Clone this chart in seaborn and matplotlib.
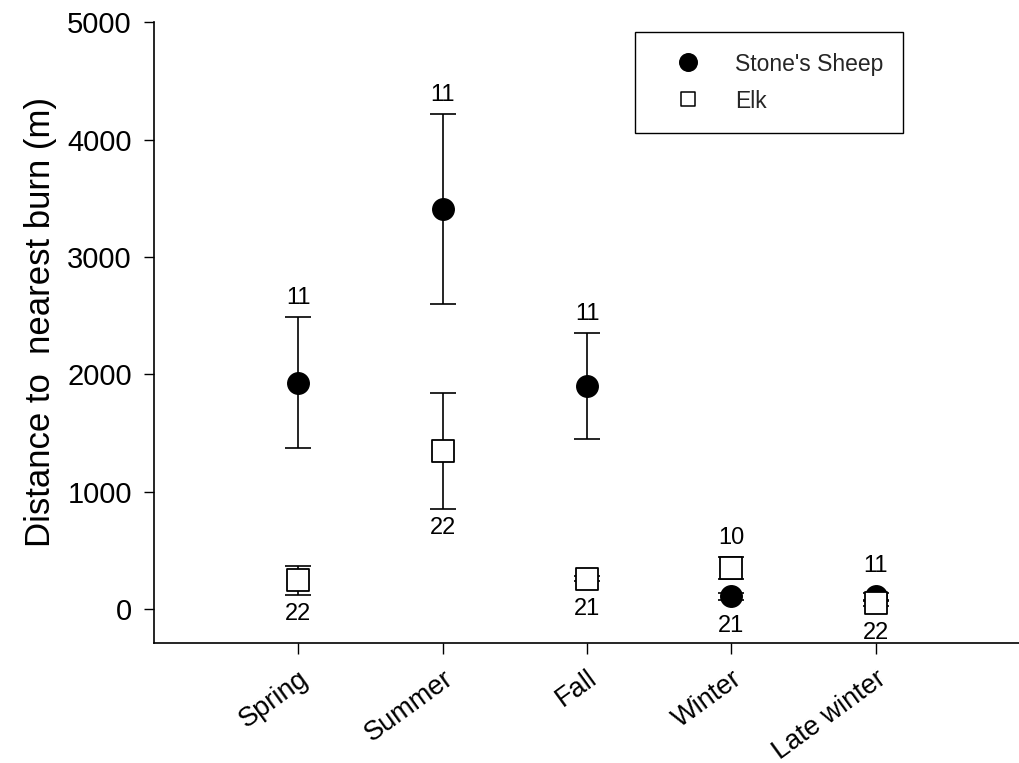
import matplotlib
matplotlib.use("Agg")
import matplotlib.pyplot as plt
import seaborn as sns
import pandas as pd
import numpy as np

# ---- data ----
seasons = ["Spring", "Summer", "Fall", "Winter", "Late winter"]
sheep_mean = [1930, 3410, 1900, 110, 110]
sheep_err = [557, 810, 453, 30, 30]
sheep_n = [11, 11, 11, 21, 11]
elk_mean = [245, 1350, 260, 350, 50]
elk_err = [123, 495, 20, 95, 20]
elk_n = [22, 22, 21, 10, 22]
series_names = ["Stone's Sheep", "Elk"]

sns.set_theme(style="ticks")
plt.rcParams["font.family"] = ["Liberation Sans", "DejaVu Sans"]

fig = plt.figure(figsize=(10.2, 7.63), dpi=100)
ax = fig.add_axes([0.151, 0.157, 0.849, 0.814])

df = pd.DataFrame({
    "season": seasons * 2,
    "x": list(range(len(seasons))) * 2,
    "mean": sheep_mean + elk_mean,
    "err": sheep_err + elk_err,
    "species": [series_names[0]] * len(seasons) + [series_names[1]] * len(seasons),
})

# error bars
for name, z in zip(series_names, [2, 4]):
    d = df[df.species == name]
    ax.errorbar(d["x"], d["mean"], yerr=d["err"], fmt="none", ecolor="black",
                elinewidth=1.2, capsize=9.5, capthick=1.2, zorder=z)

d1 = df[df.species == series_names[0]]
d2 = df[df.species == series_names[1]]
sns.scatterplot(data=d1, x="x", y="mean", marker="o", s=240, color="black",
                edgecolor="black", linewidth=1, ax=ax, zorder=3, label=series_names[0])
sns.scatterplot(data=d2, x="x", y="mean", marker="s", s=250, color="white",
                edgecolor="black", linewidth=1.3, ax=ax, zorder=5, label=series_names[1])

ax.set_xlim(-1, 5)
ax.set_ylim(-290, 5000)
ax.set_xticks(range(len(seasons)))
ax.set_xticklabels(seasons, rotation=36, ha="right", rotation_mode="anchor", fontsize=19.5)
ax.set_yticks([0, 1000, 2000, 3000, 4000, 5000])
ax.tick_params(axis="y", labelsize=21, length=7, width=1, direction="out", color="black",
               labelcolor="black", pad=9)
ax.tick_params(axis="x", length=8, width=1, direction="out", color="black", labelcolor="black", pad=8)
ax.set_xlabel("")
ax.set_ylabel("Distance to  nearest burn (m)", fontsize=25, color="black")
ax.yaxis.set_label_coords(-0.112, 0.517)
sns.despine(ax=ax)
for sp in ["left", "bottom"]:
    ax.spines[sp].set_color("black")
    ax.spines[sp].set_linewidth(1.2)

# n annotations: above higher series, below lower series
fig.canvas.draw()
ppu = (ax.transData.transform((0, 1000))[1] - ax.transData.transform((0, 0))[1]) / 1000.0  # px per unit
pt_per_px = 72.0 / fig.dpi
marker_r_px = 11
gap_px = 19
for i in range(len(seasons)):
    vals = [(sheep_mean[i], sheep_err[i], sheep_n[i]), (elk_mean[i], elk_err[i], elk_n[i])]
    hi = max(vals, key=lambda v: v[0])
    lo = min(vals, key=lambda v: v[0])
    up = max(hi[1] * ppu, marker_r_px) + gap_px
    dn = max(lo[1] * ppu, marker_r_px) + gap_px
    ax.annotate(str(hi[2]), (i, hi[0]), xytext=(0, up * pt_per_px), textcoords="offset points",
                ha="center", va="center", fontsize=17, color="black")
    ax.annotate(str(lo[2]), (i, lo[0]), xytext=(0, -dn * pt_per_px), textcoords="offset points",
                ha="center", va="center", fontsize=17, color="black")

leg = ax.legend(loc="upper left", bbox_to_anchor=(0.555, 0.984), fontsize=16.5,
                frameon=True, fancybox=False, edgecolor="black", framealpha=1,
                borderpad=0.85, handletextpad=0.55, labelspacing=0.55, borderaxespad=0,
                handlelength=3.0, handleheight=1.2)
leg.get_frame().set_linewidth(1.0)
hs = leg.legend_handles
hs[0].set_sizes([160])
hs[1].set_sizes([110])
hs[1].set_linewidth(1.1)

fig.savefig("out.png", dpi=100)
